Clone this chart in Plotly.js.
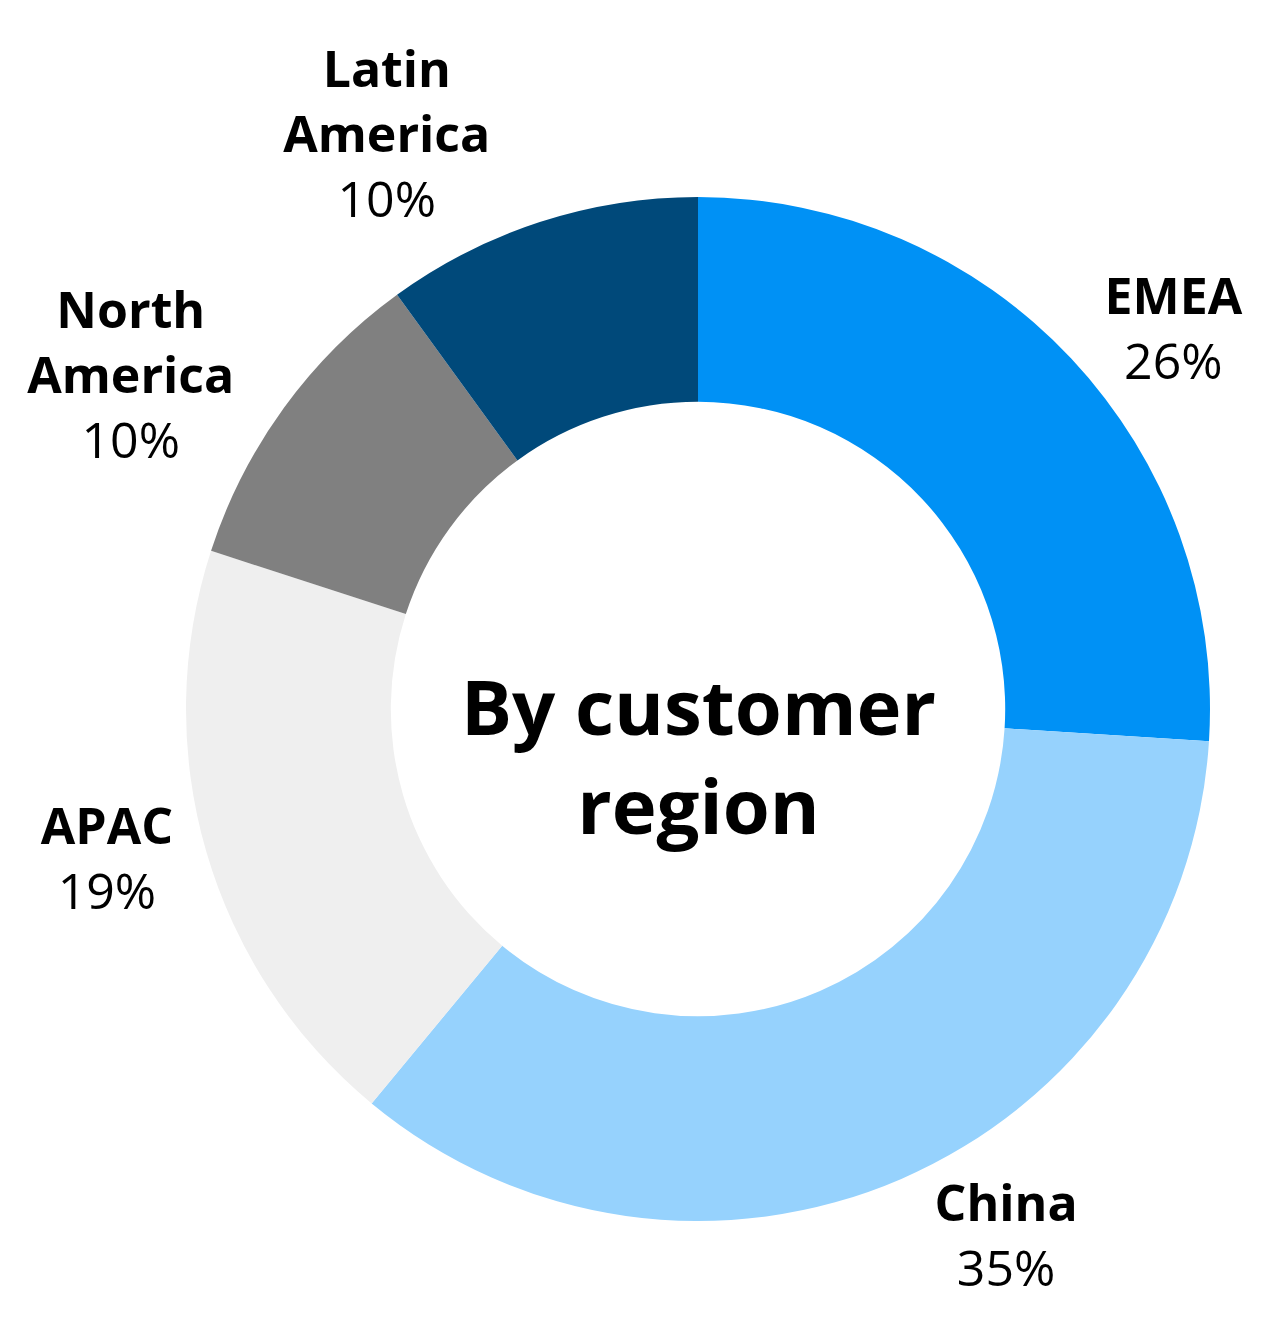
<!DOCTYPE html>
<html>
<head>
<meta charset="utf-8">
<script src="https://cdn.plot.ly/plotly-3.0.1.min.js"></script>
<style>html,body{margin:0;padding:0;background:#fff;}#chart{width:1265px;height:1326px;}</style>
</head>
<body>
<div id="chart"></div>
<script>
const regions = ["EMEA", "China", "APAC", "North<br>America", "Latin<br>America"];
const shares = [26, 35, 19, 10, 10];
const colors = ["#0091F5", "#96D2FD", "#EFEFEF", "#808080", "#00497A"];
const centerText = "<b>By customer<br>region</b>";

const trace = {
  type: "pie",
  labels: regions,
  values: shares,
  sort: false,
  direction: "clockwise",
  rotation: 0,
  hole: 0.6,
  marker: {colors: colors, line: {width: 0}},
  texttemplate: "<b>%{label}</b><br>%{value}%",
  textposition: "outside",
  textfont: {family: "Open Sans, sans-serif", size: 50, color: "#000"},
  hoverinfo: "none",
  showlegend: false
};

const layout = {
  width: 1265,
  height: 1326,
  margin: {l: 186, r: 55, t: 197, b: 105},
  paper_bgcolor: "#fff",
  plot_bgcolor: "#fff",
  showlegend: false,
  annotations: [{
    text: centerText,
    x: 0.5, y: 0.455, xref: "paper", yref: "paper",
    showarrow: false,
    font: {family: "Open Sans, sans-serif", size: 76, color: "#000"}
  }]
};

Plotly.newPlot("chart", [trace], layout, {staticPlot: true});
</script>
</body>
</html>
